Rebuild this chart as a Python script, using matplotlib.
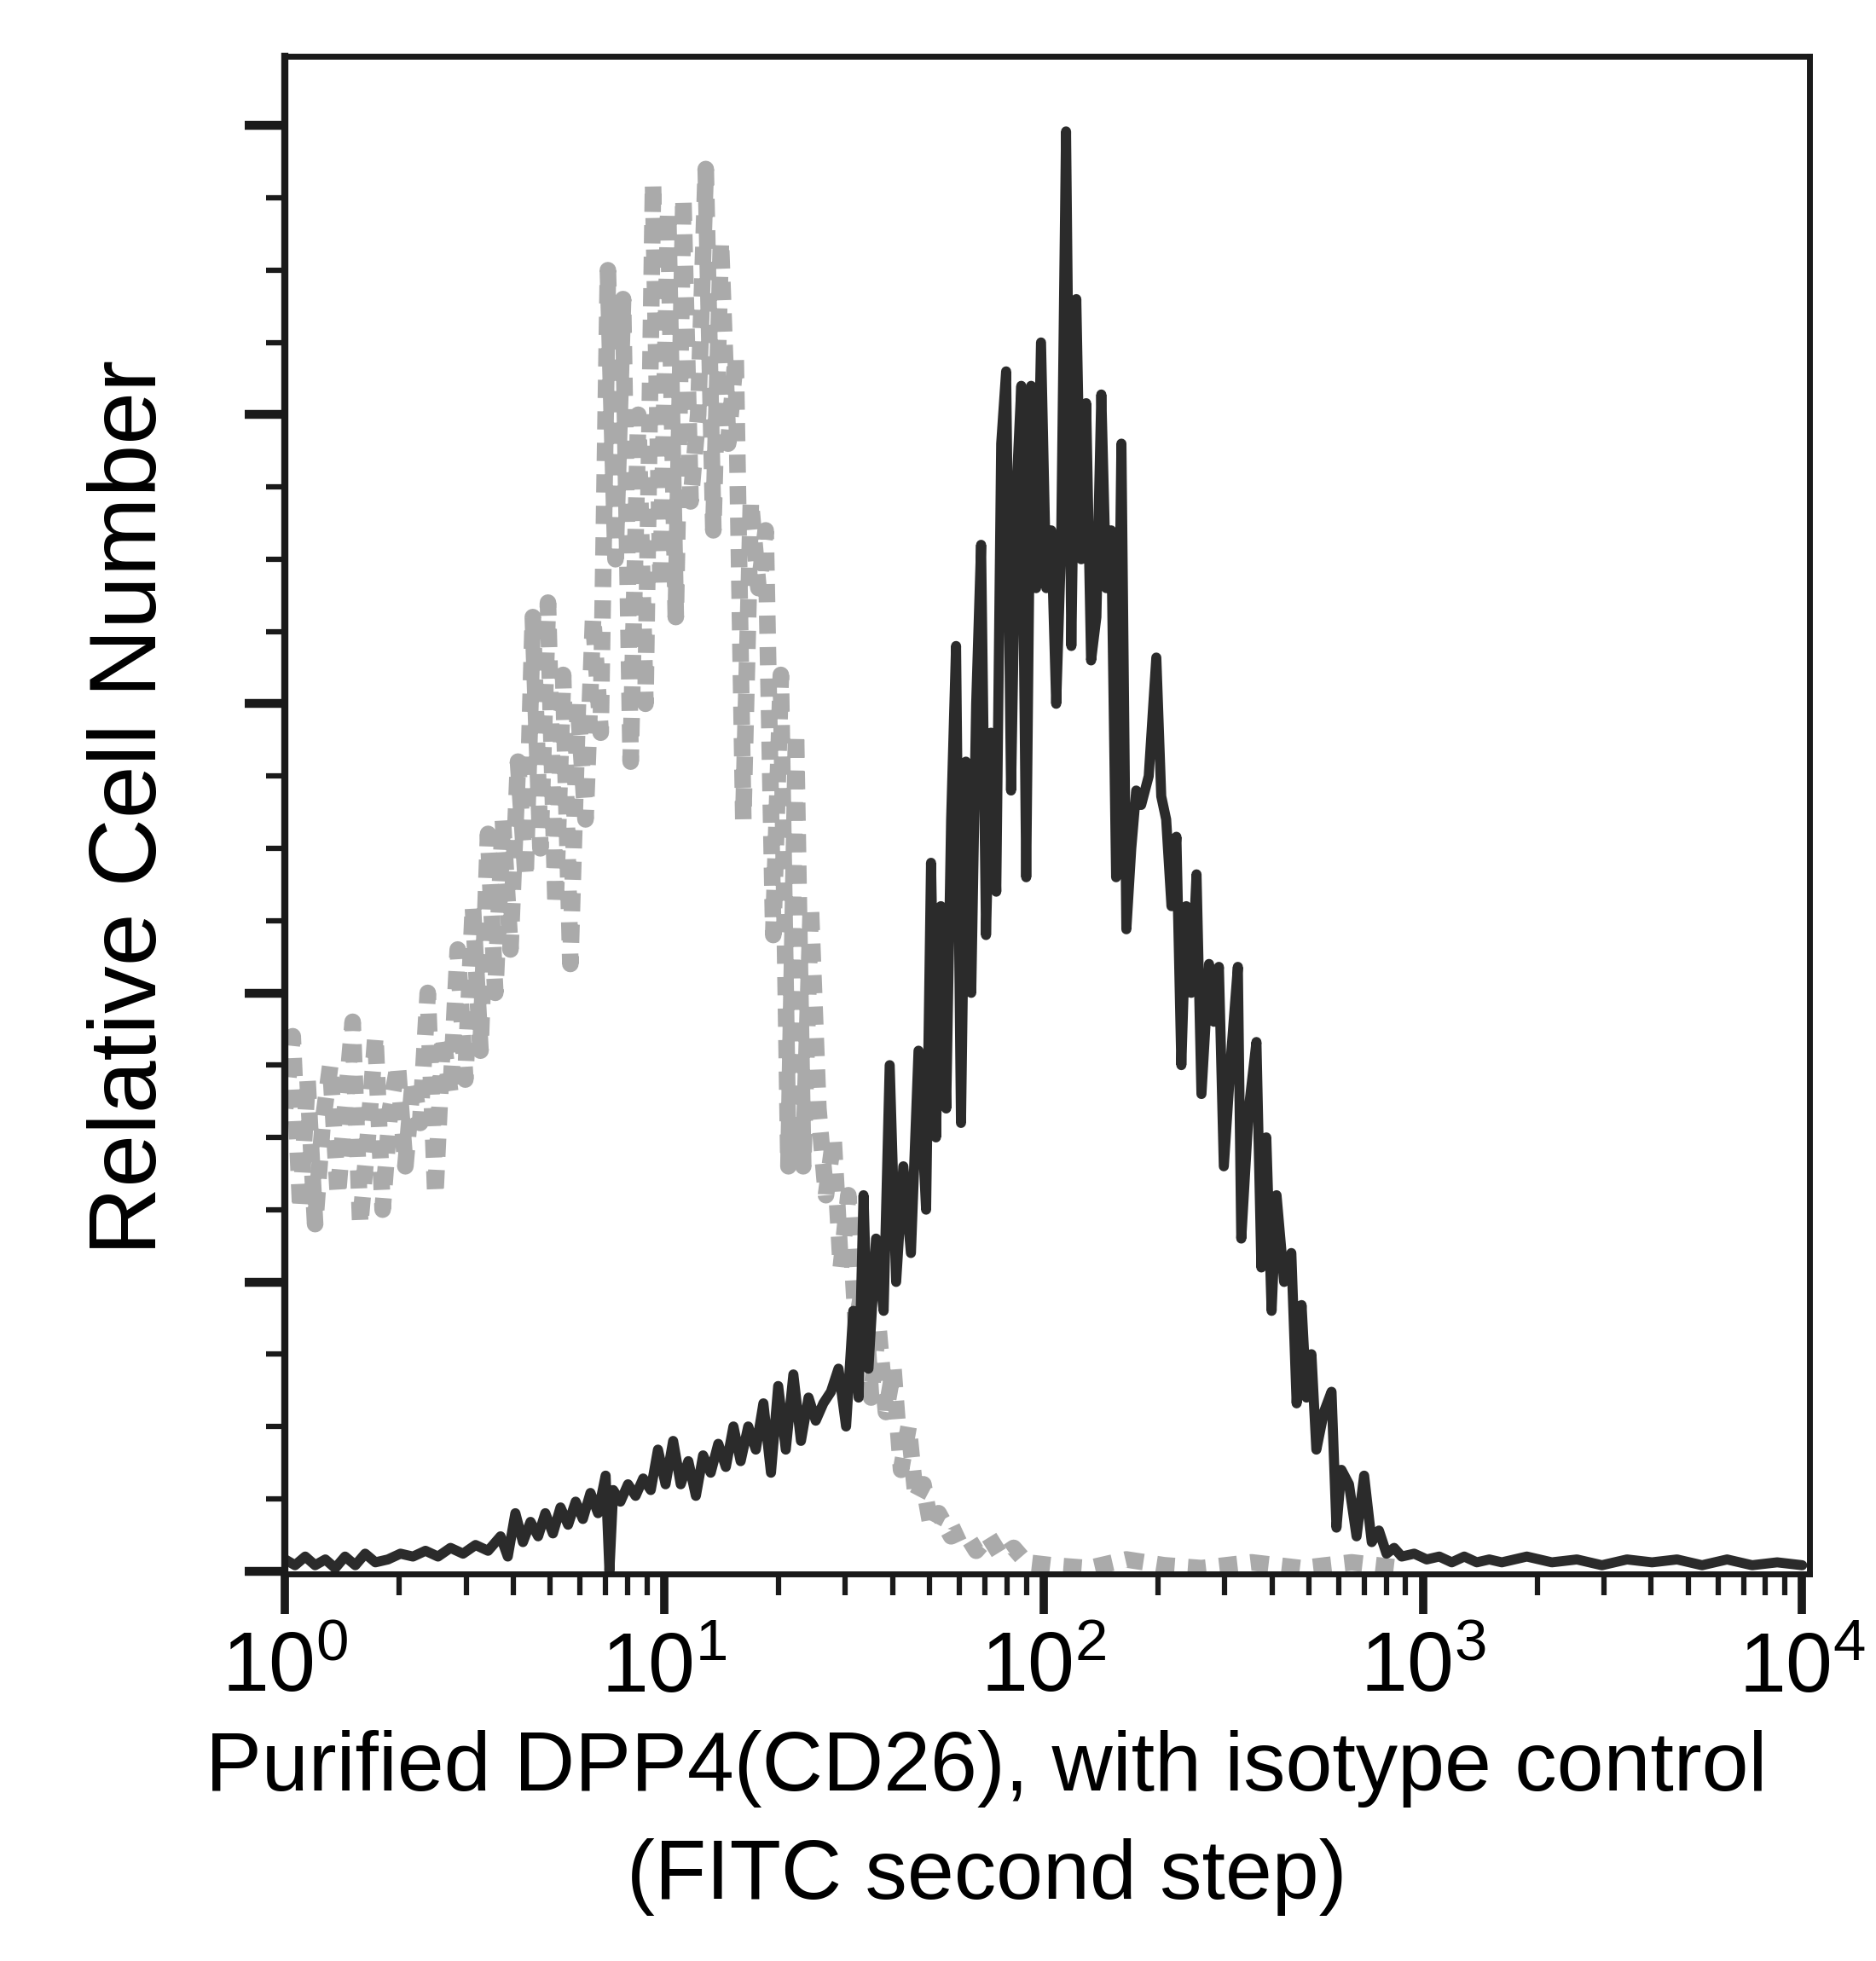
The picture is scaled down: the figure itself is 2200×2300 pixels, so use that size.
import matplotlib
matplotlib.use("Agg")
import matplotlib.pyplot as plt
import numpy as np
from matplotlib.ticker import FixedLocator, FixedFormatter, LogLocator, NullFormatter, MultipleLocator

plt.rcParams['font.family'] = ['Liberation Sans', 'DejaVu Sans']
plt.rcParams['mathtext.fontset'] = 'custom'
plt.rcParams['mathtext.rm'] = 'Liberation Sans'
plt.rcParams['mathtext.it'] = 'Liberation Sans:italic'
plt.rcParams['mathtext.bf'] = 'Liberation Sans:bold'

# isotype control (gray), log10 fluorescence vs relative count
iso_log = [0.000, 0.020, 0.040, 0.059, 0.079, 0.099, 0.119, 0.139, 0.158, 0.178, 0.198,
           0.218, 0.238, 0.257, 0.277, 0.297, 0.317, 0.337, 0.356, 0.376, 0.396,
           0.416, 0.436, 0.455, 0.475, 0.495, 0.515, 0.535, 0.554, 0.574, 0.594,
           0.614, 0.634, 0.653, 0.673, 0.693, 0.713, 0.733, 0.752, 0.772, 0.792,
           0.812, 0.832, 0.851, 0.871, 0.891, 0.911, 0.931, 0.950, 0.970, 0.990,
           1.010, 1.030, 1.050, 1.069, 1.089, 1.109, 1.129, 1.149, 1.168, 1.188,
           1.208, 1.228, 1.248, 1.267, 1.287, 1.307, 1.327, 1.347, 1.366, 1.386,
           1.406, 1.426, 1.446, 1.465, 1.485, 1.505, 1.525, 1.545, 1.564, 1.584,
           1.604, 1.624, 1.644, 1.663, 1.683, 1.703, 1.723, 1.756, 1.789, 1.822,
           1.855, 1.888, 1.921, 1.954, 2.020, 2.119, 2.218, 2.317, 2.416, 2.548,
           2.680, 2.812, 2.944]
iso_count = [1.60, 1.85, 1.25, 1.70, 1.20, 1.55, 1.75, 1.30, 1.60, 1.90, 1.20,
             1.50, 1.85, 1.25, 1.60, 1.75, 1.40, 1.70, 1.55, 2.00, 1.30,
             1.85, 1.65, 2.15, 1.70, 2.30, 1.80, 2.55, 2.00, 2.60, 2.15,
             2.80, 2.40, 3.30, 2.50, 3.35, 2.30, 3.10, 2.10, 3.00, 2.60,
             3.30, 2.90, 4.50, 3.50, 4.40, 2.80, 4.00, 3.00, 4.80, 3.40,
             4.70, 3.30, 4.75, 3.70, 4.00, 4.85, 3.60, 4.60, 3.90, 4.20,
             2.60, 3.70, 3.40, 3.60, 2.20, 3.10, 1.40, 2.90, 1.40, 2.30,
             1.60, 1.30, 1.50, 1.05, 1.30, 0.85, 1.00, 0.60, 0.85, 0.55,
             0.70, 0.35, 0.50, 0.25, 0.30, 0.15, 0.20, 0.12, 0.14, 0.07,
             0.12, 0.05, 0.08, 0.03, 0.02, 0.01, 0.04, 0.02, 0.01, 0.03,
             0.01, 0.03, 0.01]

# DPP4 (CD26) stained (black)
dpp4_log = [0.000, 0.026, 0.053, 0.079, 0.106, 0.132, 0.158, 0.185, 0.211, 0.238,
            0.271, 0.304, 0.337, 0.370, 0.403, 0.436, 0.469, 0.502, 0.535, 0.568,
            0.587, 0.607, 0.627, 0.647, 0.667, 0.686, 0.706, 0.726, 0.746, 0.766,
            0.785, 0.805, 0.825, 0.845, 0.855, 0.865, 0.884, 0.904, 0.924, 0.944,
            0.964, 0.983, 1.003, 1.023, 1.043, 1.063, 1.083, 1.102, 1.122, 1.142,
            1.162, 1.182, 1.201, 1.221, 1.241, 1.261, 1.281, 1.300, 1.320, 1.340,
            1.360, 1.380, 1.399, 1.419, 1.439, 1.459, 1.479, 1.498, 1.512, 1.525,
            1.538, 1.558, 1.578, 1.594, 1.611, 1.630, 1.650, 1.670, 1.690, 1.703,
            1.716, 1.729, 1.743, 1.756, 1.769, 1.782, 1.795, 1.809, 1.822, 1.835,
            1.848, 1.861, 1.875, 1.888, 1.901, 1.914, 1.927, 1.941, 1.954, 1.967,
            1.980, 1.993, 2.007, 2.020, 2.033, 2.046, 2.059, 2.073, 2.086, 2.099,
            2.112, 2.125, 2.139, 2.152, 2.165, 2.178, 2.191, 2.205, 2.218, 2.231,
            2.244, 2.257, 2.277, 2.297, 2.310, 2.323, 2.337, 2.350, 2.363, 2.376,
            2.389, 2.403, 2.416, 2.436, 2.449, 2.462, 2.475, 2.495, 2.512, 2.521,
            2.541, 2.561, 2.574, 2.587, 2.601, 2.614, 2.634, 2.653, 2.667, 2.680,
            2.693, 2.706, 2.719, 2.739, 2.759, 2.772, 2.785, 2.805, 2.825, 2.845,
            2.865, 2.884, 2.904, 2.924, 2.944, 2.977, 3.010, 3.043, 3.076, 3.109,
            3.142, 3.175, 3.208, 3.274, 3.340, 3.406, 3.472, 3.538, 3.604, 3.670,
            3.736, 3.802, 3.868, 3.934, 4.000]
dpp4_count = [0.04, 0.02, 0.05, 0.02, 0.04, 0.01, 0.05, 0.02, 0.06, 0.03,
              0.04, 0.06, 0.05, 0.07, 0.05, 0.08, 0.06, 0.09, 0.07, 0.12,
              0.05, 0.20, 0.10, 0.17, 0.12, 0.20, 0.13, 0.22, 0.16, 0.24,
              0.18, 0.27, 0.20, 0.33, 0.00, 0.28, 0.24, 0.30, 0.26, 0.32,
              0.28, 0.42, 0.30, 0.45, 0.30, 0.38, 0.26, 0.40, 0.34, 0.44,
              0.36, 0.50, 0.38, 0.50, 0.42, 0.58, 0.34, 0.64, 0.42, 0.68,
              0.45, 0.60, 0.52, 0.58, 0.62, 0.70, 0.50, 0.90, 0.60, 1.30,
              0.70, 1.15, 0.90, 1.75, 1.00, 1.40, 1.10, 1.80, 1.25, 2.45,
              1.50, 2.30, 1.60, 2.60, 3.20, 1.55, 2.80, 2.00, 3.00, 3.55,
              2.20, 2.90, 2.35, 3.90, 4.15, 2.70, 3.70, 4.10, 2.40, 4.10,
              3.40, 4.25, 3.40, 3.60, 3.00, 3.55, 4.98, 3.20, 4.40, 3.50,
              4.04, 3.15, 3.30, 4.07, 3.40, 3.60, 2.40, 3.90, 2.22, 2.50,
              2.70, 2.65, 2.75, 3.16, 2.68, 2.60, 2.30, 2.54, 1.75, 2.30,
              2.00, 2.41, 1.65, 2.10, 1.90, 2.09, 1.40, 1.80, 2.09, 1.15,
              1.60, 1.83, 1.05, 1.50, 0.90, 1.30, 1.00, 1.10, 0.58, 0.92,
              0.60, 0.75, 0.42, 0.55, 0.62, 0.15, 0.35, 0.30, 0.12, 0.33,
              0.10, 0.14, 0.06, 0.08, 0.05, 0.06, 0.04, 0.05, 0.03, 0.05,
              0.03, 0.04, 0.03, 0.05, 0.03, 0.04, 0.02, 0.04, 0.03, 0.04,
              0.02, 0.04, 0.02, 0.03, 0.02]

decades = [0, 1, 2, 3, 4]
tick_text = [r'$\mathregular{10^{%d}}$' % d for d in decades]
xlabel_text = "Purified DPP4(CD26), with isotype control\n(FITC second step)"
ylabel_text = "Relative Cell Number"

fig = plt.figure(figsize=(22, 23), dpi=100)
ax = fig.add_axes([0.152, 0.1974, 0.8127, 0.7739])

iso_x = 10 ** np.array(iso_log)
dpp4_x = 10 ** np.array(dpp4_log)

ax.plot(iso_x, iso_count, color='#aaaaaa', lw=14, linestyle=(0, (1.1, 0.8)),
        dash_capstyle='butt', solid_joinstyle='miter')
ax.plot(dpp4_x, dpp4_count, color='#2b2b2b', lw=8.5, solid_joinstyle='round',
        solid_capstyle='round')

ax.set_xscale('log')
ax.set_xlim(1, 10 ** 4.02)
ax.set_ylim(-0.01, 5.24)

ax.xaxis.set_major_locator(FixedLocator([10 ** d for d in decades]))
ax.xaxis.set_major_formatter(FixedFormatter(tick_text))
ax.xaxis.set_minor_locator(LogLocator(base=10, subs=np.arange(2, 10), numticks=20))
ax.xaxis.set_minor_formatter(NullFormatter())

ax.yaxis.set_major_locator(MultipleLocator(1.0))
ax.yaxis.set_minor_locator(MultipleLocator(0.25))
ax.yaxis.set_major_formatter(NullFormatter())

ax.tick_params(axis='x', which='major', direction='out', length=34, width=7,
               labelsize=71, pad=14, color='#1a1a1a')
ax.tick_params(axis='x', which='minor', direction='out', length=18, width=4.5, color='#1a1a1a')
ax.tick_params(axis='y', which='major', direction='out', length=34, width=7.5, color='#1a1a1a')
ax.tick_params(axis='y', which='minor', direction='out', length=16, width=4.5, color='#1a1a1a')

for side in ['left', 'right', 'top', 'bottom']:
    ax.spines[side].set_linewidth(5)
    ax.spines[side].set_color('#1a1a1a')
ax.spines['left'].set_linewidth(6)

ax.set_ylabel(ylabel_text, fontsize=80)
ax.yaxis.set_label_coords(-0.072, 0.505)
ax.set_xlabel(xlabel_text, fontsize=71, linespacing=1.5, va='top')
ax.xaxis.set_label_coords(0.46, -0.103)

fig.savefig('out.png', dpi=100, facecolor='white')
